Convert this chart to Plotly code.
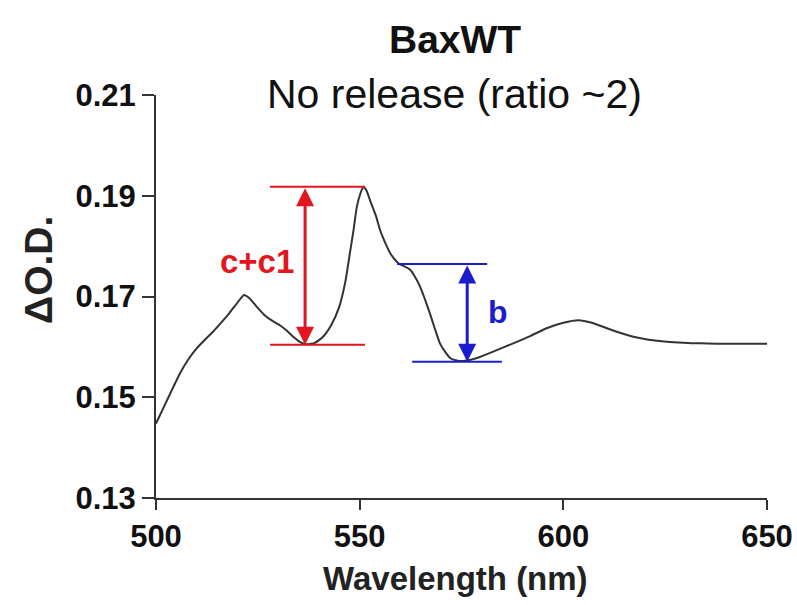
import plotly.graph_objects as go

# ---- data ----
wavelength = [500, 502, 504, 506, 508, 510, 512, 514, 516, 518, 520, 521.6, 523, 524.7, 526.8,
              528.5, 530.4, 532, 533.7, 535.5, 537, 539, 541, 543, 545, 546.5, 547.6,
              548.5, 549.3, 550.2, 550.9, 551.7, 552.5, 554, 555, 556.2, 557.5, 559, 560,
              561, 562.4, 563.5, 564.8, 566, 567.3, 568.5, 569.7, 571, 572.2, 573.8, 575.4,
              577.5, 579.5, 583.5, 587.7, 592, 595.9, 600, 603.7, 607, 610.7, 613.5, 617.2,
              621, 625.4, 629.5, 633.6, 641.7, 650]
delta_od = [0.1448, 0.1482, 0.1516, 0.1549, 0.1576, 0.1597, 0.1614, 0.1630, 0.1648, 0.1667,
            0.1688, 0.1703, 0.1696, 0.1680, 0.1662, 0.1652, 0.1643, 0.1633, 0.1620, 0.1609,
            0.1605, 0.1608, 0.1620, 0.1643, 0.1680, 0.1730, 0.1786, 0.1832, 0.1878, 0.1905,
            0.1918, 0.1910, 0.1892, 0.1860, 0.1832, 0.1808, 0.1786, 0.1770, 0.1763, 0.1760,
            0.1753, 0.1740, 0.1720, 0.1695, 0.1665, 0.1635, 0.1607, 0.1590, 0.1578, 0.1573,
            0.1572, 0.1575, 0.1580, 0.1593, 0.1607, 0.1622, 0.1637, 0.1648, 0.1653, 0.1648,
            0.1637, 0.1629, 0.1620, 0.1614, 0.1610, 0.1608, 0.1607, 0.1606, 0.1606]

x_ticks = [500, 550, 600, 650]
y_ticks = [0.13, 0.15, 0.17, 0.19, 0.21]
y_tick_labels = ["0.13", "0.15", "0.17", "0.19", "0.21"]

# measurement markers (c+c1 in red, b in blue)
red_top, red_bottom = 0.1918, 0.1604
red_x_span = [528.0, 551.3]
red_arrow_x = 536.6
red_label = "c+c1"
red_label_pos = [524.8, 0.1769]

blue_top, blue_bottom = 0.17645, 0.15706
blue_top_span = [559.2, 581.3]
blue_bottom_span = [562.9, 584.9]
blue_arrow_x = 576.4
blue_label = "b"
blue_label_pos = [584.0, 0.1669]

title_1 = "BaxWT"
title_2 = "No release (ratio ~2)"
x_title = "Wavelength (nm)"
y_title = "ΔO.D."

RED = "#e3161f"
BLUE = "#1c1ccf"
FONT = "Liberation Sans"

fig = go.Figure()
fig.add_trace(go.Scatter(x=wavelength, y=delta_od, mode="lines",
                         line=dict(color="#333333", width=2, shape="spline", smoothing=0.5),
                         hoverinfo="skip", showlegend=False))

# horizontal reference lines
fig.add_shape(type="line", xref="x", yref="y", x0=red_x_span[0], x1=red_x_span[1],
              y0=red_top, y1=red_top, line=dict(color=RED, width=2))
fig.add_shape(type="line", xref="x", yref="y", x0=red_x_span[0], x1=red_x_span[1],
              y0=red_bottom, y1=red_bottom, line=dict(color=RED, width=2))
fig.add_shape(type="line", xref="x", yref="y", x0=blue_top_span[0], x1=blue_top_span[1],
              y0=blue_top, y1=blue_top, line=dict(color=BLUE, width=2))
fig.add_shape(type="line", xref="x", yref="y", x0=blue_bottom_span[0], x1=blue_bottom_span[1],
              y0=blue_bottom, y1=blue_bottom, line=dict(color=BLUE, width=2))

# double arrows
fig.add_annotation(x=red_arrow_x, y=red_bottom, ax=red_arrow_x, ay=red_top,
                   xref="x", yref="y", axref="x", ayref="y", text="", showarrow=True,
                   arrowhead=2, startarrowhead=2, arrowside="end+start", arrowsize=1.2,
                   startarrowsize=1.2, arrowwidth=3, arrowcolor=RED)
fig.add_annotation(x=blue_arrow_x, y=blue_bottom, ax=blue_arrow_x, ay=blue_top,
                   xref="x", yref="y", axref="x", ayref="y", text="", showarrow=True,
                   arrowhead=2, startarrowhead=2, arrowside="end+start", arrowsize=1.2,
                   startarrowsize=1.2, arrowwidth=3, arrowcolor=BLUE)

fig.add_annotation(x=red_label_pos[0], y=red_label_pos[1], xref="x", yref="y",
                   text="<b>" + red_label + "</b>", showarrow=False,
                   font=dict(family=FONT, size=33, color=RED))
fig.add_annotation(x=blue_label_pos[0], y=blue_label_pos[1], xref="x", yref="y",
                   text="<b>" + blue_label + "</b>", showarrow=False,
                   font=dict(family=FONT, size=32, color=BLUE))

# titles (positioned relative to the plot area)
fig.add_annotation(x=0.489, y=1, xref="paper", yref="paper", yshift=56,
                   text="<b>" + title_1 + "</b>", showarrow=False,
                   xanchor="center", yanchor="middle",
                   font=dict(family=FONT, size=39, color="#111111"))
fig.add_annotation(x=0.489, y=1, xref="paper", yref="paper", yshift=1,
                   text=title_2, showarrow=False, xanchor="center", yanchor="middle",
                   font=dict(family=FONT, size=41, color="#111111"))
fig.add_annotation(x=0.49, y=0, xref="paper", yref="paper", yshift=-80,
                   text="<b>" + x_title + "</b>", showarrow=False,
                   xanchor="center", yanchor="middle",
                   font=dict(family=FONT, size=33, color="#222222"))
fig.add_annotation(x=0, y=0.566, xref="paper", yref="paper", xshift=-117,
                   text="<b>" + y_title + "</b>", showarrow=False, textangle=-90,
                   xanchor="center", yanchor="middle",
                   font=dict(family=FONT, size=39, color="#222222"))

fig.update_layout(
    width=797, height=605,
    margin=dict(l=156, r=30, t=95, b=107),
    paper_bgcolor="white", plot_bgcolor="white",
    font=dict(family=FONT, color="#111111"),
    showlegend=False,
)
fig.update_xaxes(range=[500, 650], tickvals=x_ticks, ticks="outside", ticklen=10,
                 tickwidth=2, tickcolor="#333333", showline=True, linewidth=2,
                 linecolor="#333333", showgrid=False, zeroline=False, automargin=False,
                 ticklabeloverflow="allow",
                 tickfont=dict(family=FONT, size=31, color="#111111", weight="bold"))
fig.update_yaxes(range=[0.13, 0.21], tickvals=y_ticks, ticktext=y_tick_labels,
                 ticks="outside", ticklen=12, tickwidth=2, tickcolor="#333333",
                 showline=True, linewidth=2, linecolor="#333333", showgrid=False,
                 zeroline=False, automargin=False,
                 tickfont=dict(family=FONT, size=31, color="#111111", weight="bold"))

# remove the default page margin so the 797x605 figure fills the window exactly
fig.write_html("out.html", config={"displayModeBar": False},
               post_script="document.body.style.margin='0px';document.body.style.overflow='hidden';")
